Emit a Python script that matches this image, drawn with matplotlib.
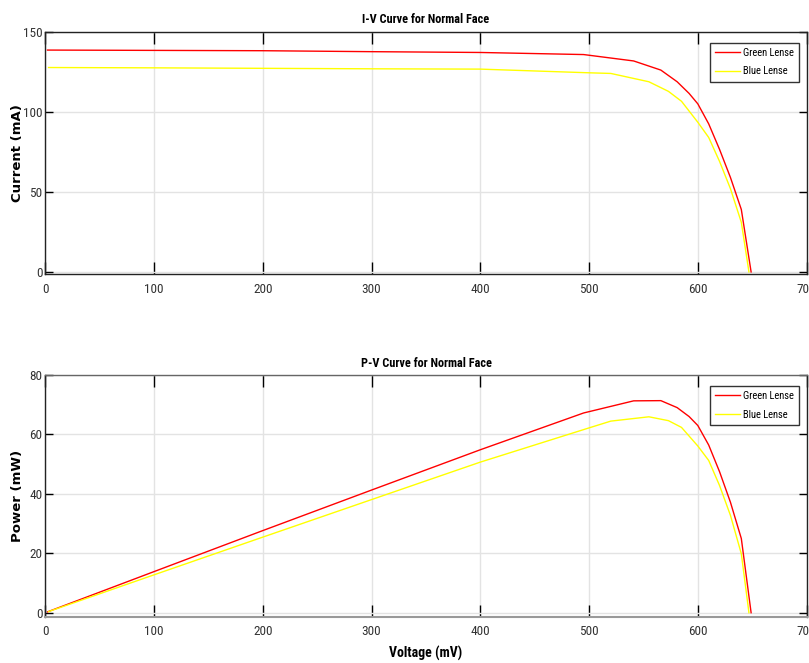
import matplotlib
matplotlib.use("Agg")
import matplotlib.pyplot as plt
from matplotlib import font_manager

# Measured data (voltage in mV, current in mA, power in mW)
green_voltage = [2, 100, 200, 300, 400, 495, 541, 566, 581, 592, 600, 610, 620, 630, 640, 649]
green_current = [138.6, 138.4, 138.2, 137.6, 137.1, 135.8, 131.8, 126.1, 118.8, 111.5, 105.0, 92.5, 76.5, 59.0, 39.0, 0.0]
green_power = [0.28, 13.84, 27.64, 41.28, 54.84, 67.22, 71.30, 71.37, 69.02, 66.01, 63.00, 56.43, 47.43, 37.17, 24.96, 0.0]

blue_voltage = [3, 100, 200, 300, 400, 500, 520, 555, 573, 585, 600, 610, 620, 630, 640, 647]
blue_current = [127.7, 127.5, 127.2, 126.9, 126.7, 124.4, 124.0, 118.8, 112.8, 106.6, 93.5, 84.0, 69.0, 52.0, 31.0, 0.0]
blue_power = [0.38, 12.75, 25.44, 38.07, 50.68, 62.20, 64.48, 65.93, 64.63, 62.36, 56.10, 51.24, 42.78, 32.76, 19.84, 0.0]

series_labels = ["Green Lense", "Blue Lense"]
series_colors = ["#ff0000", "#ffff00"]

x_ticks = [0, 100, 200, 300, 400, 500, 600, 700]
iv_ticks = [0, 50, 100, 150]
pv_ticks = [0, 20, 40, 60, 80]

# Prefer a narrow sans face for labels, fall back to Liberation Sans
names = sorted({f.name for f in font_manager.fontManager.ttflist})
narrow = None
for pref in ["Liberation Sans Narrow", "Arial Narrow", "Roboto Condensed",
             "Open Sans Condensed", "DejaVu Sans Condensed"]:
    if pref in names:
        narrow = pref
        break
if narrow is None:
    for n in names:
        if "Narrow" in n or "Condensed" in n:
            narrow = n
            break
if narrow is None:
    narrow = "Liberation Sans"
plt.rcParams["font.family"] = [narrow, "DejaVu Sans"]

fig = plt.figure(figsize=(8.09, 6.63), dpi=100)
ax_iv = fig.add_axes([0.056, 0.586, 0.941, 0.366])
ax_pv = fig.add_axes([0.056, 0.0698, 0.941, 0.3646])


def style_axes(ax, yticks, ylim):
    ax.set_xlim(0, 700)
    ax.set_ylim(*ylim)
    ax.set_xticks(x_ticks)
    ax.set_yticks(yticks)
    ax.grid(True, color="#e3e3e3", linewidth=1.0)
    ax.set_axisbelow(True)
    ax.tick_params(axis="x", direction="in", length=8.5, width=1.0, top=True,
                   labelsize=9.5, labelcolor="#333333", pad=6)
    ax.tick_params(axis="y", direction="in", length=5.5, width=1.0, right=True,
                   labelsize=9.5, labelcolor="#333333", pad=2)
    for s in ax.spines.values():
        s.set_linewidth(1.0)
        s.set_color("#222222")


# I-V curve
ax_iv.plot(green_voltage, green_current, color=series_colors[0], lw=1.0, label=series_labels[0])
ax_iv.plot(blue_voltage, blue_current, color=series_colors[1], lw=1.0, label=series_labels[1])
style_axes(ax_iv, iv_ticks, (-1.6, 150))
ax_iv.set_title("I-V Curve for Normal Face", fontsize=8.8, fontweight="bold", pad=6)
ax_iv.set_ylabel("Current (mA)", fontsize=9.5, fontweight="bold", family="DejaVu Sans")
ax_iv.yaxis.set_label_coords(-0.028, 0.5)

# P-V curve
ax_pv.plot(green_voltage, green_power, color=series_colors[0], lw=1.0, label=series_labels[0])
ax_pv.plot(blue_voltage, blue_power, color=series_colors[1], lw=1.0, label=series_labels[1])
style_axes(ax_pv, pv_ticks, (-1.35, 80))
ax_pv.spines["top"].set_color("#666666")
ax_pv.spines["bottom"].set_color("#999999")
ax_pv.spines["bottom"].set_linewidth(1.5)
ax_pv.set_title("P-V Curve for Normal Face", fontsize=8.8, fontweight="bold", pad=6)
ax_pv.set_ylabel("Power (mW)", fontsize=9.5, fontweight="bold", family="DejaVu Sans")
ax_pv.yaxis.set_label_coords(-0.028, 0.5)
ax_pv.set_xlabel("Voltage (mV)", fontsize=10, fontweight="bold", labelpad=6)

for ax in (ax_iv, ax_pv):
    leg = ax.legend(loc="upper right", bbox_to_anchor=(0.990, 0.955), fontsize=7.6,
                    frameon=True, fancybox=False, framealpha=1, edgecolor="#333333",
                    handlelength=2.3, handletextpad=0.3, borderpad=0.5, labelspacing=0.8,
                    borderaxespad=0)
    leg.get_frame().set_linewidth(1.0)

fig.savefig("out.png", dpi=100, facecolor="white")
